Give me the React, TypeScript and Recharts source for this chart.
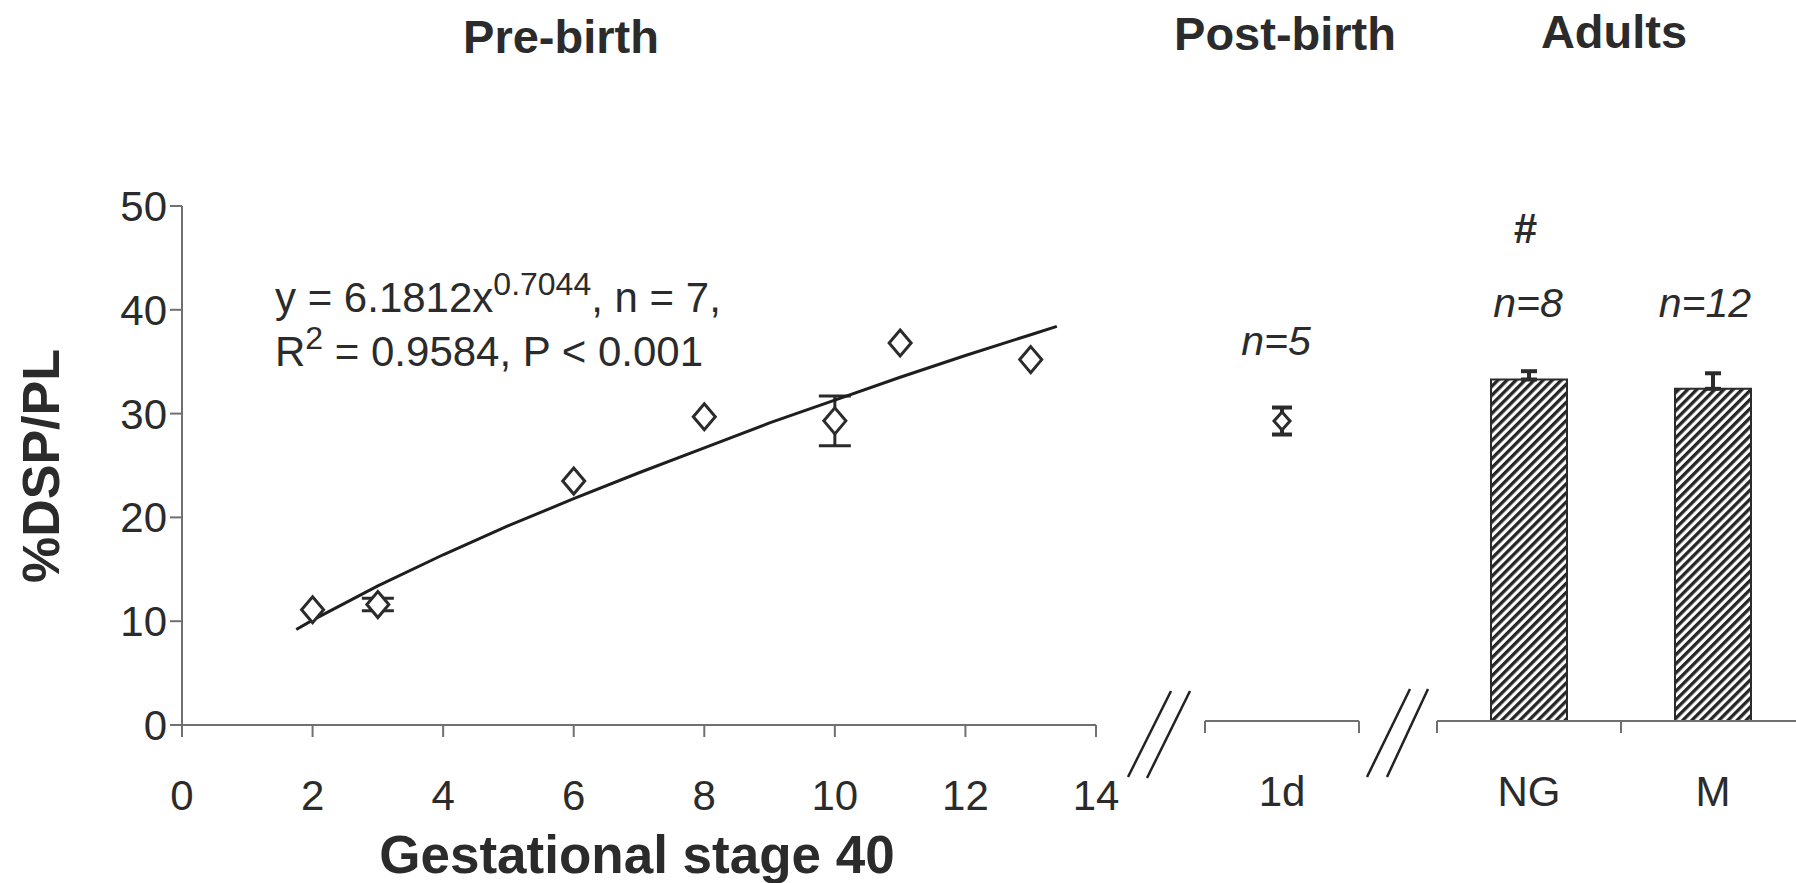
import React from 'react';
import { ComposedChart, Scatter, Bar, XAxis, YAxis, ErrorBar } from 'recharts';

const FONT = '"Liberation Sans", Arial, Helvetica, sans-serif';
const INK = '#2b2b2b';
const AXIS = '#707070';

// Pre-birth: %DSP/PL at each gestational stage (mean, SEM)
const stages = [2, 3, 6, 8, 10, 11, 13];
const preBirthMeans = [11.1, 11.6, 23.5, 29.7, 29.3, 36.8, 35.2];
const preBirthErrors = [0, 0.6, 0, 0, 2.4, 0, 0];

// Power-law fit drawn through the pre-birth means
const fitStages = [1.75, 2, 3, 4, 5, 6, 7, 8, 9, 10, 11, 12, 13, 13.4];
const fitValues = [9.2, 10.1, 13.4, 16.4, 19.2, 21.8, 24.3, 26.7, 29.1, 31.3, 33.5, 35.6, 37.6, 38.4];

const stageTicks = [0, 2, 4, 6, 8, 10, 12, 14];
const percentTicks = [0, 10, 20, 30, 40, 50];

// Post-birth
const postBirthLabels = ['1d'];
const postBirthMeans = [28.9];
const postBirthErrors = [1.3];
const postBirthCounts = [5];

// Adults
const adultGroups = ['NG', 'M'];
const adultMeans = [32.9, 32.0];
const adultErrors = [0.8, 1.5];
const adultCounts = [8, 12];

const preBirthData = stages.map((s, i) => ({ stage: s, value: preBirthMeans[i], err: preBirthErrors[i] }));
const fitData = fitStages.map((s, i) => ({ stage: s, value: fitValues[i] }));
const postBirthData = postBirthLabels.map((label, i) => ({
  pos: i + 0.5,
  label,
  value: postBirthMeans[i],
  err: postBirthErrors[i],
}));
const adultData = adultGroups.map((label, i) => ({
  pos: i + 0.5,
  label,
  value: adultMeans[i],
  err: [0, adultErrors[i]],
}));

const TICK_SIZE = 12;
const TICK_GAP = 43;
const tickFont = { fontSize: 42, fill: INK, fontFamily: FONT };

const diamond = (rx: number, ry: number) => (props: any) => {
  const { cx, cy } = props;
  if (cx == null || cy == null) return <g />;
  return (
    <polygon
      points={`${cx},${cy - ry} ${cx + rx},${cy} ${cx},${cy + ry} ${cx - rx},${cy}`}
      fill="#fff"
      stroke={INK}
      strokeWidth={3}
    />
  );
};

const noDot = () => <g />;

// Category axis with tick marks on the band edges and labels in the middle
const bandTick = (rows: { pos: number; label: string }[]) => (props: any) => {
  const { x, y, payload } = props;
  const v = payload.value;
  const row = rows.find((r) => r.pos === v);
  if (row) {
    return (
      <text x={x} y={y} dy="0.71em" textAnchor="middle" {...tickFont}>
        {row.label}
      </text>
    );
  }
  const axisY = y - TICK_SIZE - TICK_GAP;
  return <line x1={x} x2={x} y1={axisY} y2={axisY + TICK_SIZE} stroke={AXIS} strokeWidth={2} />;
};

const axisLine = { stroke: AXIS, strokeWidth: 2 };

export default function App() {
  return (
    <div
      style={{
        position: 'absolute',
        left: 0,
        top: 0,
        width: 1796,
        height: 883,
        overflow: 'hidden',
        background: '#fff',
        fontFamily: FONT,
      }}
    >
      <svg width={0} height={0} style={{ position: 'absolute' }}>
        <defs>
          <pattern id="hatch" width="6.4" height="6.4" patternUnits="userSpaceOnUse" patternTransform="rotate(45)">
            <rect width="6.4" height="6.4" fill="#ffffff" />
            <rect width="3.3" height="6.4" fill="#262626" />
          </pattern>
        </defs>
      </svg>

      {/* Pre-birth panel */}
      <div style={{ position: 'absolute', left: 0, top: 0 }}>
        <ComposedChart width={1140} height={883} margin={{ top: 206, right: 44, bottom: 98, left: 0 }}>
          <XAxis
            type="number"
            dataKey="stage"
            domain={[0, 14]}
            ticks={stageTicks}
            interval={0}
            height={60}
            tickSize={TICK_SIZE}
            tickMargin={TICK_GAP}
            axisLine={axisLine}
            tickLine={axisLine}
            tick={tickFont}
          />
          <YAxis
            type="number"
            domain={[0, 50]}
            ticks={percentTicks}
            interval={0}
            width={182}
            tickSize={TICK_SIZE}
            tickMargin={3}
            axisLine={axisLine}
            tickLine={axisLine}
            tick={tickFont}
          />
          <Scatter
            data={fitData}
            dataKey="value"
            line={{ stroke: '#1e1e1e', strokeWidth: 3 }}
            shape={noDot}
            isAnimationActive={false}
          />
          <Scatter data={preBirthData} dataKey="value" shape={diamond(11, 13)} isAnimationActive={false}>
            <ErrorBar dataKey="err" direction="y" width={16} stroke={INK} strokeWidth={3} />
          </Scatter>
        </ComposedChart>
      </div>

      {/* Post-birth panel */}
      <div style={{ position: 'absolute', left: 1150, top: 0 }}>
        <ComposedChart width={260} height={883} margin={{ top: 202, right: 51, bottom: 102, left: 55 }}>
          <XAxis
            type="number"
            dataKey="pos"
            domain={[0, 1]}
            ticks={[0, 0.5, 1]}
            interval={0}
            height={60}
            tickSize={TICK_SIZE}
            tickMargin={TICK_GAP}
            axisLine={axisLine}
            tickLine={false}
            tick={bandTick(postBirthData)}
          />
          <YAxis type="number" domain={[0, 50]} hide />
          <Scatter data={postBirthData} dataKey="value" shape={diamond(8, 9)} isAnimationActive={false}>
            <ErrorBar dataKey="err" direction="y" width={10} stroke={INK} strokeWidth={4} />
          </Scatter>
        </ComposedChart>
      </div>

      {/* Adults panel */}
      <div style={{ position: 'absolute', left: 1378, top: 0 }}>
        <ComposedChart data={adultData} width={440} height={883} margin={{ top: 202, right: 13, bottom: 102, left: 59 }}>
          <XAxis
            type="number"
            dataKey="pos"
            domain={[0, 2]}
            ticks={[0, 0.5, 1, 1.5, 2]}
            interval={0}
            height={60}
            tickSize={TICK_SIZE}
            tickMargin={TICK_GAP}
            axisLine={axisLine}
            tickLine={false}
            tick={bandTick(adultData)}
          />
          <YAxis type="number" domain={[0, 50]} hide />
          <Bar
            dataKey="value"
            barSize={76}
            fill="url(#hatch)"
            stroke={INK}
            strokeWidth={2}
            isAnimationActive={false}
          >
            <ErrorBar dataKey="err" direction="y" width={8} stroke={INK} strokeWidth={4} />
          </Bar>
        </ComposedChart>
      </div>

      {/* Titles, axis titles, annotations and axis breaks */}
      <svg
        width={1796}
        height={883}
        style={{ position: 'absolute', left: 0, top: 0, pointerEvents: 'none' }}
        fontFamily={FONT}
      >
        <g fill={INK} fontWeight="bold" fontSize={47} textAnchor="middle">
          <text x={561} y={53}>Pre-birth</text>
          <text x={1285} y={50}>Post-birth</text>
          <text x={1614} y={48}>Adults</text>
        </g>
        <text
          transform="translate(59,466) rotate(-90)"
          textAnchor="middle"
          fontWeight="bold"
          fontSize={52}
          fill={INK}
        >
          %DSP/PL
        </text>
        <text x={637} y={873} textAnchor="middle" fontWeight="bold" fontSize={53} fill={INK}>
          Gestational stage 40
        </text>

        <g fill={INK} fontSize={42}>
          <text x={275} y={312}>
            y = 6.1812x
            <tspan fontSize={32} dy={-17}>0.7044</tspan>
            <tspan dy={17}>, n = {stages.length},</tspan>
          </text>
          <text x={275} y={366}>
            R
            <tspan fontSize={32} dy={-17}>2</tspan>
            <tspan dy={17}> = 0.9584, P &lt; 0.001</tspan>
          </text>
        </g>

        <g fill={INK} fontSize={41} fontStyle="italic" textAnchor="middle">
          <text x={1276} y={355}>n={postBirthCounts[0]}</text>
          <text x={1528} y={317}>n={adultCounts[0]}</text>
          <text x={1705} y={317}>n={adultCounts[1]}</text>
          <text x={1525} y={243} fontSize={42} fontWeight="bold">#</text>
        </g>

        <g stroke="#222" strokeWidth={2.5}>
          <line x1={1128} y1={777} x2={1171} y2={691} />
          <line x1={1147} y1={778} x2={1190} y2={691} />
          <line x1={1367} y1={777} x2={1410} y2={689} />
          <line x1={1387} y1={777} x2={1428} y2={689} />
        </g>
      </svg>
    </div>
  );
}
